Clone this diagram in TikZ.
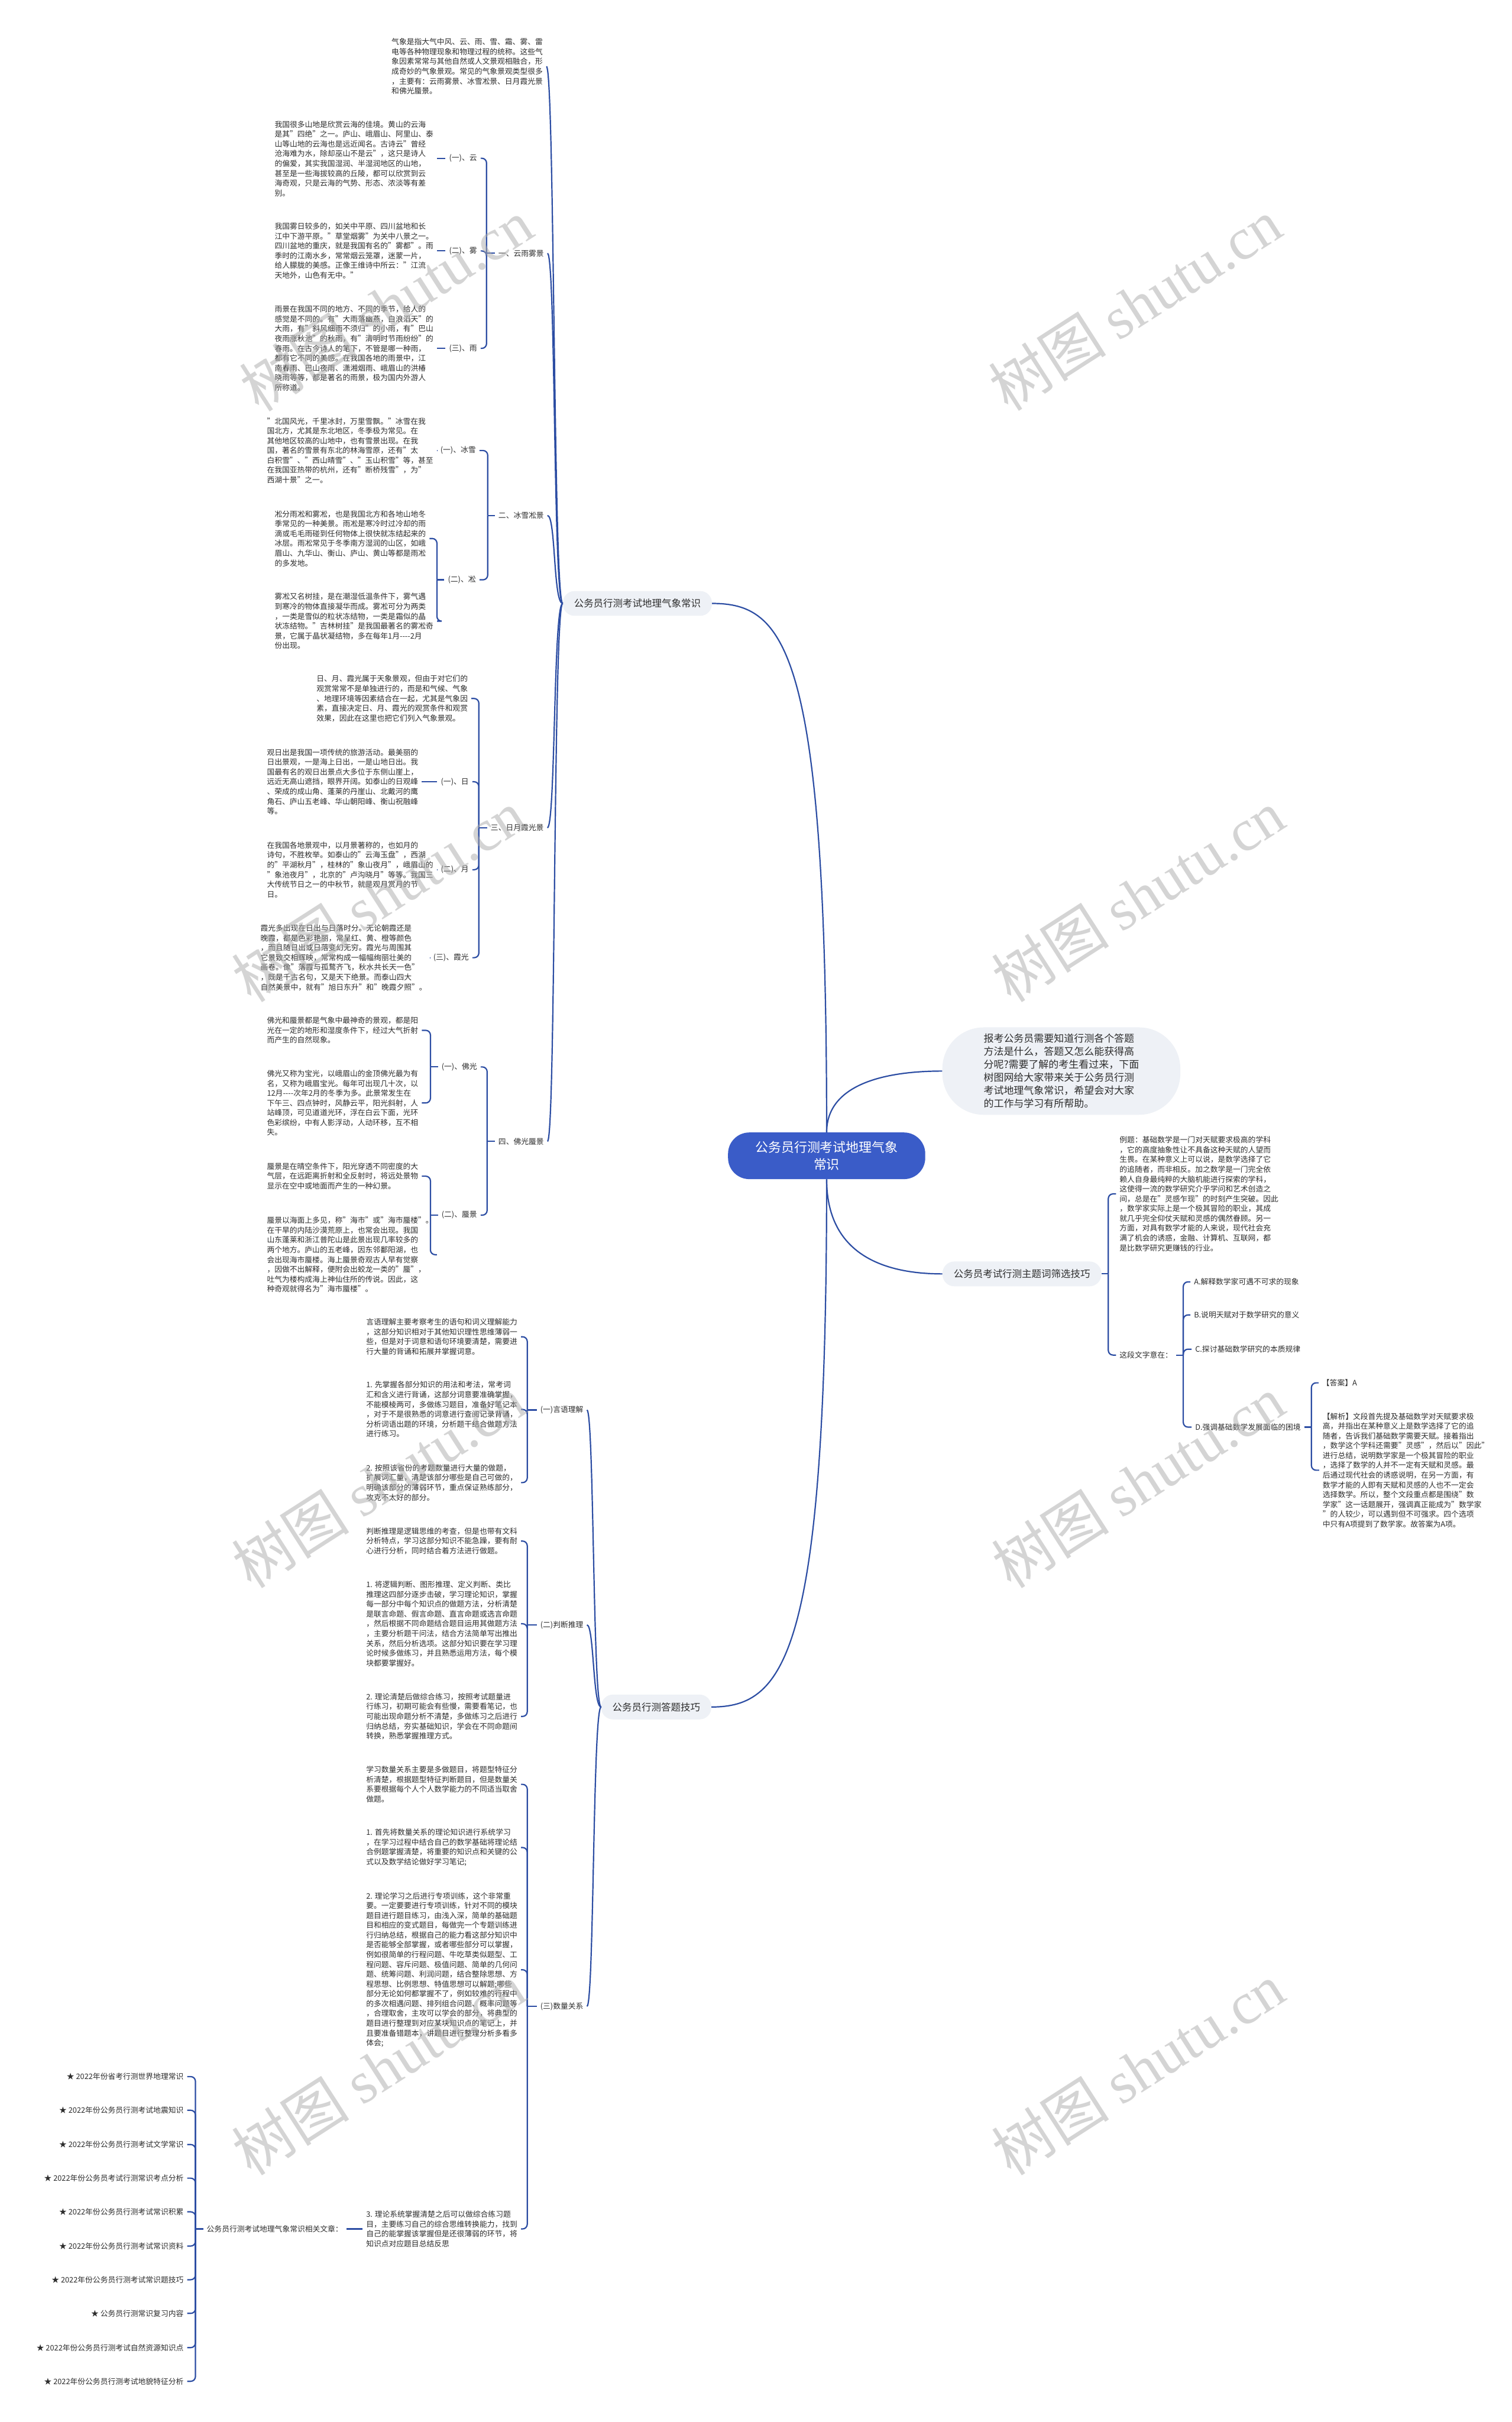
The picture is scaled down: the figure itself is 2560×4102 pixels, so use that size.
\documentclass[tikz,border=0pt]{standalone}
\usepackage{fontspec}
\setmainfont{Noto Sans CJK SC}
\newfontfamily\wmserif{Liberation Serif}
\newfontfamily\cjkf{Noto Sans CJK SC}
\usetikzlibrary{calc}
\definecolor{lineblue}{RGB}{44,77,163}
\definecolor{rootblue}{RGB}{58,92,200}
\definecolor{boxgray}{RGB}{238,241,246}
\definecolor{txtgray}{RGB}{45,45,45}
\definecolor{wmgray}{RGB}{170,170,170}
\begin{document}
\begin{tikzpicture}[x=1pt,y=-1pt,
  conn/.style={draw=lineblue, line width=2.2pt, rounded corners=8pt},
  curv/.style={draw=lineblue, line width=2.2pt},
  txt/.style={font=\fontsize{12.8}{16.6}\selectfont, text=txtgray, align=left, inner xsep=6pt, inner ysep=1pt, anchor=west},
  lab/.style={font=\fontsize{12.8}{16.6}\selectfont, text=txtgray, inner xsep=6pt, inner ysep=1pt},
  branch/.style={font=\fontsize{16.5}{20}\selectfont, text=txtgray, fill=boxgray, rounded corners=20pt, inner xsep=19pt, minimum height=42pt, anchor=west},
  wm/.style={text=wmgray, text opacity=0.5, rotate=32.7, inner sep=0pt, font=\cjkf\fontsize{100}{100}\selectfont}
]
\fill[white] (0,0) rectangle (2560,4102);
\useasboundingbox (0,0) rectangle (2560,4102);

% ---------------- root and first-level ----------------
\node[fill=rootblue, text=white, rounded corners=36pt, minimum width=334pt, minimum height=79pt, align=center, font=\fontsize{22}{29}\selectfont] (root) at (1400,1957.5) {公务员行测考试地理气象\\常识};

\node[fill=boxgray, rounded corners=70pt, minimum width=403pt, minimum height=148pt, align=left, text=txtgray, font=\fontsize{17}{22}\selectfont] (bub) at (1797.5,1814) {报考公务员需要知道行测各个答题\\方法是什么，答题又怎么能获得高\\分呢?需要了解的考生看过来，下面\\树图网给大家带来关于公务员行测\\考试地理气象常识，希望会对大家\\的工作与学习有所帮助。};

\node[branch] (B1) at (953,1022) {公务员行测考试地理气象常识};
\node[branch] (B3) at (1596,2157.5) {公务员考试行测主题词筛选技巧};
\node[branch] (B2) at (1018,2891) {公务员行测答题技巧};

\draw[curv] (root.north) .. controls (1400,1100) and (1330,1022) .. (B1.east);
\draw[curv] (root.north) .. controls (1400,1840) and (1490,1814) .. (bub.west);
\draw[curv] (root.south) .. controls (1400,2120) and (1490,2157.5) .. (B3.west);
\draw[curv] (root.south) .. controls (1400,2800) and (1330,2891) .. (B2.east);

% ---------------- branch 1 ----------------
\node[txt] (top) at (657,112.5) {气象是指大气中风、云、雨、雪、霜、雾、雷\\电等各种物理现象和物理过程的统称。这些气\\象因素常常与其他自然或人文景观相融合，形\\成奇妙的气象景观。常见的气象景观类型很多\\，主要有：云雨雾景、冰雪凇景、日月霞光景\\和佛光蜃景。};

\node[lab, anchor=west] (L1) at (838,429) {一、云雨雾景};
\node[lab, anchor=west] (L2) at (838,873) {二、冰雪凇景};
\node[lab, anchor=west] (L3) at (825,1402) {三、日月霞光景};
\node[lab, anchor=west] (L4) at (838,1933) {四、佛光蜃景};

\foreach \c in {top,L1,L2,L3,L4}
  \draw[curv] (B1.west) .. controls +(-16,0) and +(14,0) .. (\c.east);

% group 1
\node[lab, anchor=east] (l1a) at (814,268) {(一)、云};
\node[lab, anchor=east] (l1b) at (814,425) {(二)、雾};
\node[lab, anchor=east] (l1c) at (814,590) {(三)、雨};
\node[txt] (t1a) at (459,268.7) {我国很多山地是欣赏云海的佳境。黄山的云海\\是其"四绝"之一。庐山、峨眉山、阿里山、泰\\山等山地的云海也是远近闻名。古诗云"曾经\\沧海难为水，除却巫山不是云"，这只是诗人\\的偏爱，其实我国湿润、半湿润地区的山地，\\甚至是一些海拔较高的丘陵，都可以欣赏到云\\海奇观，只是云海的气势、形态、浓淡等有差\\别。};
\node[txt] (t1b) at (459,425) {我国雾日较多的，如关中平原、四川盆地和长\\江中下游平原。"草堂烟雾"为关中八景之一。\\四川盆地的重庆，就是我国有名的"雾都"。雨\\季时的江南水乡，常常烟云笼罩，迷蒙一片，\\给人朦胧的美感。正像王维诗中所云："江流\\天地外，山色有无中。"};
\node[txt] (t1c) at (459,590) {雨景在我国不同的地方、不同的季节，给人的\\感觉是不同的。有"大雨落幽燕，白浪滔天"的\\大雨，有"斜风细雨不须归"的小雨，有"巴山\\夜雨涨秋池"的秋雨，有"清明时节雨纷纷"的\\春雨。在古今诗人的笔下，不管是哪一种雨，\\都有它不同的美感。在我国各地的雨景中，江\\南春雨、巴山夜雨、潇湘烟雨、峨眉山的洪椿\\晓雨等等，都是著名的雨景，极为国内外游人\\所称道。};
\coordinate (s1) at (824,0);
\draw[conn] (L1.west) -- (L1.west -| s1);
\foreach \c in {l1a,l1b,l1c} \draw[conn] (L1.west -| s1) |- (\c.east);
\draw[conn] (l1a.west) -- (l1a.west -| t1a.east);
\draw[conn] (l1b.west) -- (l1b.west -| t1b.east);
\draw[conn] (l1c.west) -- (l1c.west -| t1c.east);

% group 2
\node[lab, anchor=east] (l2a) at (812,763) {(一)、冰雪};
\node[lab, anchor=east] (l2b) at (812,982) {(二)、凇};
\node[txt] (t2a) at (446,763) {"北国风光，千里冰封，万里雪飘。"冰雪在我\\国北方，尤其是东北地区，冬季极为常见。在\\其他地区较高的山地中，也有雪景出现。在我\\国，著名的雪景有东北的林海雪原，还有"太\\白积雪"、"西山晴雪"、"玉山积雪"等，甚至\\在我国亚热带的杭州，还有"断桥残雪"，为"\\西湖十景"之一。};
\node[txt] (t2b1) at (459,912) {凇分雨凇和雾凇，也是我国北方和各地山地冬\\季常见的一种美景。雨凇是寒冷时过冷却的雨\\滴或毛毛雨碰到任何物体上很快就冻结起来的\\冰层。雨凇常见于冬季南方湿润的山区，如峨\\眉山、九华山、衡山、庐山、黄山等都是雨凇\\的多发地。};
\node[txt] (t2b2) at (459,1052) {雾凇又名树挂，是在潮湿低温条件下，雾气遇\\到寒冷的物体直接凝华而成。雾凇可分为两类\\，一类是雪似的粒状冻结物，一类是霜似的晶\\状冻结物。"吉林树挂"是我国最著名的雾凇奇\\景，它属于晶状凝结物，多在每年1月-{}-{}-{}-2月\\份出现。};
\coordinate (s2) at (826,0);
\draw[conn] (L2.west) -- (L2.west -| s2);
\foreach \c in {l2a,l2b} \draw[conn] (L2.west -| s2) |- (\c.east);
\draw[conn] (l2a.west) -- (l2a.west -| t2a.east);
\coordinate (s2b) at (740,0);
\draw[conn] (l2b.west) -- (l2b.west -| s2b);
\foreach \c in {t2b1,t2b2} \draw[conn] (l2b.west -| s2b) |- (\c.east);

% group 3
\node[txt] (t3i) at (530,1183) {日、月、霞光属于天象景观，但由于对它们的\\观赏常常不是单独进行的，而是和气候、气象\\、地理环境等因素结合在一起，尤其是气象因\\素，直接决定日、月、霞光的观赏条件和观赏\\效果，因此在这里也把它们列入气象景观。};
\node[lab, anchor=east] (l3a) at (800,1324) {(一)、日};
\node[lab, anchor=east] (l3b) at (800,1473) {(二)、月};
\node[lab, anchor=east] (l3c) at (800,1622) {(三)、霞光};
\node[txt] (t3a) at (446,1324) {观日出是我国一项传统的旅游活动。最美丽的\\日出景观，一是海上日出，一是山地日出。我\\国最有名的观日出景点大多位于东侧山崖上，\\远近无高山遮挡，眼界开阔。如泰山的日观峰\\、荣成的成山角、蓬莱的丹崖山、北戴河的鹰\\角石、庐山五老峰、华山朝阳峰、衡山祝融峰\\等。};
\node[txt] (t3b) at (446,1473) {在我国各地景观中，以月景著称的，也如月的\\诗句，不胜枚举。如泰山的"云海玉盘"，西湖\\的"平湖秋月"，桂林的"象山夜月"，峨眉山的\\"象池夜月"，北京的"卢沟晓月"等等。我国三\\大传统节日之一的中秋节，就是观月赏月的节\\日。};
\node[txt] (t3c) at (435,1622) {霞光多出现在日出与日落时分。无论朝霞还是\\晚霞，都是色彩艳丽，常呈红、黄、橙等颜色\\，而且随日出或日落变幻无穷。霞光与周围其\\它景致交相辉映，常常构成一幅幅绚丽壮美的\\画卷。像"落霞与孤鹜齐飞，秋水共长天一色"\\，既是千古名句，又是天下绝景。而泰山四大\\自然美景中，就有"旭日东升"和"晚霞夕照"。};
\coordinate (s3) at (811,0);
\draw[conn] (L3.west) -- (L3.west -| s3);
\foreach \c in {t3i,l3a,l3b,l3c} \draw[conn] (L3.west -| s3) |- (\c.east);
\draw[conn] (l3a.west) -- (l3a.west -| t3a.east);
\draw[conn] (l3b.west) -- (l3b.west -| t3b.east);
\draw[conn] (l3c.west) -- (l3c.west -| t3c.east);

% group 4
\node[lab, anchor=east] (l4a) at (814,1807) {(一)、佛光};
\node[lab, anchor=east] (l4b) at (814,2058) {(二)、蜃景};
\node[txt] (t4a1) at (446,1745) {佛光和蜃景都是气象中最神奇的景观，都是阳\\光在一定的地形和湿度条件下，经过大气折射\\而产生的自然现象。};
\node[txt] (t4a2) at (446,1868) {佛光又称为宝光，以峨眉山的金顶佛光最为有\\名，又称为峨眉宝光。每年可出现几十次，以\\12月-{}-{}-{}-次年2月的冬季为多。此景常发生在\\下午三、四点钟时，风静云平，阳光斜射，人\\站峰顶，可见道道光环，浮在白云下面，光环\\色彩缤纷，中有人影浮动，人动环移，互不相\\失。};
\node[txt] (t4b1) at (446,1992) {蜃景是在晴空条件下，阳光穿透不同密度的大\\气层，在远距离折射和全反射时，将远处景物\\显示在空中或地面而产生的一种幻景。};
\node[txt] (t4b2) at (446,2125) {蜃景以海面上多见，称"海市"或"海市蜃楼"。\\在干旱的内陆沙漠荒原上，也常会出现。我国\\山东蓬莱和浙江普陀山是此景出现几率较多的\\两个地方。庐山的五老峰，因东邻鄱阳湖，也\\会出现海市蜃楼。海上蜃景奇观古人早有觉察\\，因做不出解释，便附会出蛟龙一类的"蜃"，\\吐气为楼构成海上神仙住所的传说。因此，这\\种奇观就得名为"海市蜃楼"。};
\coordinate (s4) at (825,0);
\draw[conn] (L4.west) -- (L4.west -| s4);
\foreach \c in {l4a,l4b} \draw[conn] (L4.west -| s4) |- (\c.east);
\coordinate (s4a) at (729,0);
\draw[conn] (l4a.west) -- (l4a.west -| s4a);
\foreach \c in {t4a1,t4a2} \draw[conn] (l4a.west -| s4a) |- (\c.east);
\draw[conn] (l4b.west) -- (l4b.west -| s4a);
\foreach \c in {t4b1,t4b2} \draw[conn] (l4b.west -| s4a) |- (\c.east);

% ---------------- right branch ----------------
\node[txt] (ex) at (1890,2022) {例题：基础数学是一门对天赋要求极高的学科\\，它的高度抽象性让不具备这种天赋的人望而\\生畏。在某种意义上可以说，是数学选择了它\\的追随者，而非相反。加之数学是一门完全依\\赖人自身最纯粹的大脑机能进行探索的学科，\\这使得一流的数学研究介乎学问和艺术创造之\\间，总是在"灵感乍现"的时刻产生突破。因此\\，数学家实际上是一个极其冒险的职业，其成\\就几乎完全仰仗天赋和灵感的偶然眷顾。另一\\方面，对具有数学才能的人来说，现代社会充\\满了机会的诱惑，金融、计算机、互联网，都\\是比数学研究更赚钱的行业。};
\node[lab, anchor=west] (q) at (1890,2295) {这段文字意在：};
\node[lab, anchor=west] (oA) at (2016,2171) {A.解释数学家可遇不可求的现象};
\node[lab, anchor=west] (oB) at (2016,2227) {B.说明天赋对于数学研究的意义};
\node[lab, anchor=west] (oC) at (2018,2285) {C.探讨基础数学研究的本质规律};
\node[lab, anchor=west] (oD) at (2018,2417) {D.强调基础数学发展面临的困境};
\node[lab, anchor=west] (ans) at (2233,2342) {【答案】A};
\node[txt] (ana) at (2234,2490) {【解析】文段首先提及基础数学对天赋要求极\\高，并指出在某种意义上是数学选择了它的追\\随者，告诉我们基础数学需要天赋。接着指出\\，数学这个学科还需要"灵感"，然后以"因此"\\进行总结，说明数学家是一个极其冒险的职业\\，选择了数学的人并不一定有天赋和灵感。最\\后通过现代社会的诱惑说明，在另一方面，有\\数学才能的人即有天赋和灵感的人也不一定会\\选择数学。所以，整个文段重点都是围绕"数\\学家"这一话题展开，强调真正能成为"数学家\\"的人较少，可以遇到但不可强求。四个选项\\中只有A项提到了数学家。故答案为A项。};
\coordinate (s5) at (1877,0);
\draw[conn] (B3.east) -- (B3.east -| s5);
\foreach \c in {ex,q} \draw[conn] (B3.east -| s5) |- (\c.west);
\coordinate (s6) at (2004,0);
\draw[conn] (q.east) -- (q.east -| s6);
\foreach \c in {oA,oB,oC,oD} \draw[conn] (q.east -| s6) |- (\c.west);
\coordinate (s7) at (2221,0);
\draw[conn] (oD.east) -- (oD.east -| s7);
\foreach \c in {ans,ana} \draw[conn] (oD.east -| s7) |- (\c.west);

% ---------------- branch 2 ----------------
\node[lab, anchor=west] (m1) at (909,2388) {(一)言语理解};
\node[lab, anchor=west] (m2) at (909,2752) {(二)判断推理};
\node[lab, anchor=west] (m3) at (909,3398) {(三)数量关系};
\foreach \c in {m1,m2,m3}
  \draw[curv] (B2.west) .. controls +(-14,0) and +(12,0) .. (\c.east);

\node[txt] (s1a) at (614,2264) {言语理解主要考察考生的语句和词义理解能力\\，这部分知识相对于其他知识理性思维薄弱一\\些，但是对于词意和语句环境要清楚，需要进\\行大量的背诵和拓展并掌握词意。};
\node[txt] (s1b) at (614,2387) {1. 先掌握各部分知识的用法和考法，常考词\\汇和含义进行背诵，这部分词意要准确掌握，\\不能模棱两可，多做练习题目，准备好笔记本\\，对于不是很熟悉的词意进行查阅记录背诵，\\分析词语出题的环境，分析题干结合做题方法\\进行练习。};
\node[txt] (s1c) at (614,2511) {2. 按照该省份的考题数量进行大量的做题，\\扩展词汇量，清楚该部分哪些是自己可做的，\\明确该部分的薄弱环节，重点保证熟练部分，\\攻克不太好的部分。};
\node[txt] (s2a) at (614,2610) {判断推理是逻辑思维的考查，但是也带有文科\\分析特点，学习这部分知识不能急躁，要有耐\\心进行分析，同时结合着方法进行做题。};
\node[txt] (s2b) at (614,2750) {1. 将逻辑判断、图形推理、定义判断、类比\\推理这四部分逐步击破，学习理论知识，掌握\\每一部分中每个知识点的做题方法，分析清楚\\是联言命题、假言命题、直言命题或选言命题\\，然后根据不同命题结合题目运用其做题方法\\，主要分析题干问法，结合方法简单写出推出\\关系，然后分析选项。这部分知识要在学习理\\论时候多做练习，并且熟悉运用方法，每个模\\块都要掌握好。};
\node[txt] (s2c) at (614,2907) {2. 理论清楚后做综合练习，按照考试题量进\\行练习，初期可能会有些慢，需要看笔记，也\\可能出现命题分析不清楚，多做练习之后进行\\归纳总结，夯实基础知识，学会在不同命题间\\转换，熟悉掌握推理方式。};
\node[txt] (s3a) at (614,3022) {学习数量关系主要是多做题目，将题型特征分\\析清楚，根据题型特征判断题目，但是数量关\\系要根据每个人个人数学能力的不同适当取舍\\做题。};
\node[txt] (s3b) at (614,3129) {1. 首先将数量关系的理论知识进行系统学习\\，在学习过程中结合自己的数学基础将理论结\\合例题掌握清楚，将重要的知识点和关键的公\\式以及数学结论做好学习笔记;};
\node[txt] (s3c) at (614,3336) {2. 理论学习之后进行专项训练，这个非常重\\要。一定要要进行专项训练，针对不同的模块\\题目进行题目练习，由浅入深，简单的基础题\\目和相应的变式题目，每做完一个专题训练进\\行归纳总结，根据自己的能力看这部分知识中\\是否能够全部掌握，或者哪些部分可以掌握，\\例如很简单的行程问题、牛吃草类似题型、工\\程问题、容斥问题、极值问题、简单的几何问\\题、统筹问题、利润问题，结合整除思想、方\\程思想、比例思想、特值思想可以解题;哪些\\部分无论如何都掌握不了，例如较难的行程中\\的多次相遇问题、排列组合问题、概率问题等\\，合理取舍，主攻可以学会的部分，将典型的\\题目进行整理到对应某块知识点的笔记上，并\\且要准备错题本，讲题目进行整理分析多看多\\体会;};
\node[txt] (s3d) at (614,3775) {3. 理论系统掌握清楚之后可以做综合练习题\\目，主要练习自己的综合思维转换能力，找到\\自己的能掌握该掌握但是还很薄弱的环节，将\\知识点对应题目总结反思};
\coordinate (sm) at (893,0);
\draw[conn] (m1.west) -- (m1.west -| sm);
\foreach \c in {s1a,s1b,s1c} \draw[conn] (m1.west -| sm) |- (\c.east);
\draw[conn] (m2.west) -- (m2.west -| sm);
\foreach \c in {s2a,s2b,s2c} \draw[conn] (m2.west -| sm) |- (\c.east);
\draw[conn] (m3.west) -- (m3.west -| sm);
\foreach \c in {s3a,s3b,s3c,s3d} \draw[conn] (m3.west -| sm) |- (\c.east);

% ---------------- related articles ----------------
\node[lab, anchor=west] (rel) at (344,3775) {公务员行测考试地理气象常识相关文章：};
\draw[conn] (s3d.west) -- (rel.east);
\node[lab, anchor=east] (st1) at (317,3517) {★ 2022年份省考行测世界地理常识};
\node[lab, anchor=east] (st2) at (317,3574) {★ 2022年份公务员行测考试地震知识};
\node[lab, anchor=east] (st3) at (317,3632) {★ 2022年份公务员行测考试文学常识};
\node[lab, anchor=east] (st4) at (317,3689) {★ 2022年份公务员考试行测常识考点分析};
\node[lab, anchor=east] (st5) at (317,3746) {★ 2022年份公务员行测考试常识积累};
\node[lab, anchor=east] (st6) at (317,3804) {★ 2022年份公务员行测考试常识资料};
\node[lab, anchor=east] (st7) at (317,3861) {★ 2022年份公务员行测考试常识题技巧};
\node[lab, anchor=east] (st8) at (317,3918) {★ 公务员行测常识复习内容};
\node[lab, anchor=east] (st9) at (317,3976) {★ 2022年份公务员行测考试自然资源知识点};
\node[lab, anchor=east] (st10) at (317,4033) {★ 2022年份公务员行测考试地貌特征分析};
\coordinate (s8) at (331,0);
\draw[conn] (rel.west) -- (rel.west -| s8);
\foreach \c in {st1,st2,st3,st4,st5,st6,st7,st8,st9,st10} \draw[conn] (rel.west -| s8) |- (\c.east);

% ---------------- watermarks ----------------
\node[wm] (wm1) at (654,517) {树图 {\wmserif shutu.cn}};
\node[wm] (wm2) at (1922,516) {树图 {\wmserif shutu.cn}};
\node[wm] (wm3) at (641,1517) {树图 {\wmserif shutu.cn}};
\node[wm] (wm4) at (1927,1517) {树图 {\wmserif shutu.cn}};
\node[wm] (wm5) at (641,2510) {树图 {\wmserif shutu.cn}};
\node[wm] (wm6) at (1927,2510) {树图 {\wmserif shutu.cn}};
\node[wm] (wm7) at (641,3504) {树图 {\wmserif shutu.cn}};
\node[wm] (wm8) at (1927,3504) {树图 {\wmserif shutu.cn}};
\end{tikzpicture}
\end{document}
